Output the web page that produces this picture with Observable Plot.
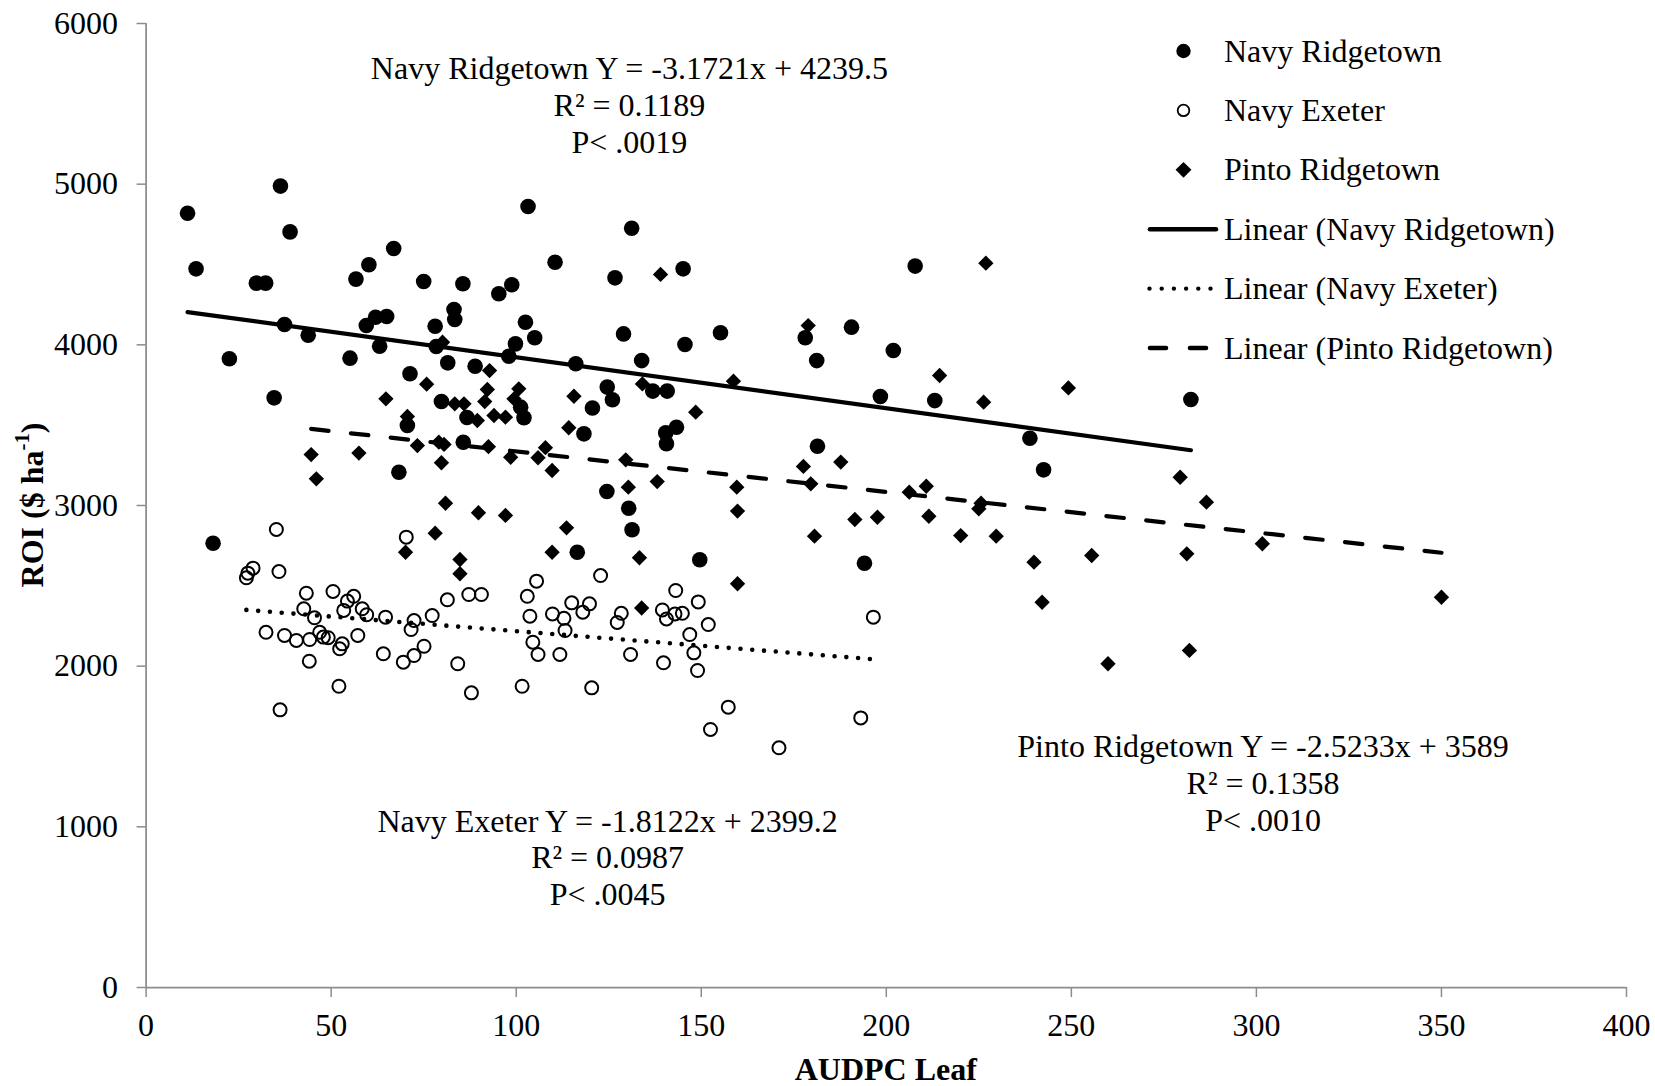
<!DOCTYPE html>
<html><head><meta charset="utf-8">
<script src="https://cdn.jsdelivr.net/npm/d3@7"></script>
<script src="https://cdn.jsdelivr.net/npm/@observablehq/plot@0.6"></script>
<style>
html,body{margin:0;padding:0;background:#fff;}
#chart{position:relative;width:1655px;height:1086px;}
</style></head><body><div id="chart"></div>
<script>
// ---- data (AUDPC Leaf, ROI $/ha) ----
const navyRidgetown = [
[11.2,4819],[36.3,4988],[13.5,4473],[38.9,4703],[66.9,4600],[60.2,4498],[56.7,4409],[29.8,4384],[32.3,4384],[75.0,4394],
[85.6,4380],[98.8,4374],[95.3,4318],[37.4,4127],[43.8,4060],[22.5,3913],[55.1,3917],[34.6,3670],[63.1,3991],[59.5,4120],
[62.0,4172],[65.0,4176],[83.2,4220],[83.4,4158],[78.1,4116],[102.5,4141],[78.4,3990],[99.8,4006],[98.0,3929],[81.5,3888],
[88.9,3867],[71.3,3820],[79.8,3647],[86.7,3548],[70.6,3498],[85.7,3394],[101.2,3612],[102.1,3546],[68.3,3207],[18.1,2765],
[103.2,4861],[131.2,4726],[110.5,4514],[126.7,4417],[145.1,4473],[105.0,4044],[129.0,4068],[145.6,4002],[155.2,4075],[116.1,3882],
[133.9,3902],[124.6,3737],[126.0,3658],[136.9,3712],[140.8,3712],[120.6,3607],[118.3,3446],[143.3,3487],[140.4,3452],[140.6,3384],
[178.1,4044],[190.6,4110],[181.2,3902],[198.4,3678],[181.4,3369],[124.5,3087],[130.4,2983],[131.3,2849],[116.5,2709],[149.6,2662],
[194.1,2641],[207.8,4490],[201.9,3965],[213.1,3653],[282.3,3660],[238.8,3419],[242.5,3222]
];
const navyExeter = [
[35.2,2851],[70.3,2803],[28.9,2610],[27.5,2579],[27.1,2550],[35.9,2589],[43.3,2454],[50.5,2465],[42.6,2357],[45.5,2301],
[54.4,2405],[56.1,2435],[53.4,2347],[58.4,2357],[59.6,2320],[64.7,2305],[72.4,2284],[71.6,2228],[77.3,2315],[81.4,2413],
[87.2,2446],[90.6,2446],[32.4,2211],[37.4,2191],[40.6,2160],[44.2,2166],[46.9,2211],[47.9,2181],[49.2,2177],[53.0,2139],
[52.3,2108],[57.2,2191],[75.1,2124],[72.4,2066],[69.5,2025],[64.1,2077],[44.1,2031],[84.2,2015],[52.1,1875],[87.9,1834],
[36.2,1728],[105.5,2529],[103.0,2435],[103.7,2311],[109.8,2325],[112.9,2298],[115.0,2394],[119.8,2388],[118.0,2336],[122.8,2564],
[113.2,2222],[104.5,2149],[105.9,2073],[111.8,2073],[128.4,2329],[127.3,2272],[130.9,2073],[143.1,2471],[139.5,2350],[140.6,2294],
[142.9,2325],[144.9,2329],[149.2,2400],[151.9,2259],[146.9,2197],[148.0,2083],[139.8,2021],[149.0,1973],[196.5,2305],[101.6,1875],
[120.4,1865],[157.3,1745],[152.5,1606],[171.0,1492],[193.1,1678]
];
const pintoRidgetown = [
[80.1,4016],[92.8,3840],[75.8,3755],[64.8,3664],[92.2,3722],[91.5,3647],[100.7,3726],[99.4,3664],[83.4,3633],[85.9,3633],
[89.5,3529],[94.0,3560],[97.1,3550],[70.6,3554],[73.3,3373],[79.1,3394],[80.5,3380],[92.5,3366],[44.6,3317],[46.0,3166],
[57.5,3326],[79.8,3266],[98.5,3300],[80.9,3014],[89.8,2955],[97.1,2938],[78.1,2828],[70.1,2709],[84.8,2664],[84.8,2575],
[139.0,4438],[115.6,3680],[114.2,3484],[134.1,3757],[148.5,3581],[158.7,3774],[178.9,4120],[107.9,3360],[105.9,3297],[109.7,3218],
[129.6,3284],[130.3,3114],[138.1,3149],[159.6,3114],[159.8,2965],[177.6,3243],[179.6,3135],[187.7,3270],[180.6,2809],[191.5,2913],
[197.6,2927],[113.6,2861],[109.7,2709],[133.3,2675],[159.8,2513],[133.9,2362],[226.9,4508],[214.4,3809],[249.2,3732],[226.3,3643],
[279.4,3176],[286.5,3021],[206.2,3083],[210.8,3120],[225.6,3014],[225.0,2979],[211.5,2933],[220.1,2813],[229.7,2809],[239.9,2647],
[255.5,2689],[281.2,2699],[301.6,2762],[242.1,2398],[350.0,2429],[259.9,2015],[281.9,2098]
];
const seriesNames = ["Navy Ridgetown", "Navy Exeter", "Pinto Ridgetown"];
const trendSlopes = [-3.1721, -1.8122, -2.5233];
const trendIntercepts = [4239.5, 2399.2, 3589];
const trendR2 = ["0.1189", "0.0987", "0.1358"];
const trendP = [".0019", ".0045", ".0010"];
const xTicks = [0, 50, 100, 150, 200, 250, 300, 350, 400];
const yTicks = [0, 1000, 2000, 3000, 4000, 5000, 6000];
const xLabel = "AUDPC Leaf";
const yLabelMain = "ROI ($ ha";
const yLabelSup = "-1";

// ---- layout ----
const W = 1655, H = 1086, mL = 145.6, mR = 29, mT = 23, mB = 99;
const FONT = "'Liberation Serif', 'Times New Roman', serif";
const FS = 32;
const AXIS = "#8c8c8c";
const annotAnchor = [[130.6, 5499], [124.7, 815], [301.8, 1276]]; // data-unit anchors of equation labels
const legendLayout = {symX: 1183.5, lineX0: 1150, lineX1: 1216, textX: 1224, y0: 51, step: 59.4};

const toRows = arr => arr.map(([x, y]) => ({x, y}));
const trendRows = (arr, i) => {
  const [x0, x1] = d3.extent(arr, d => d[0]);
  return [x0, x1].map(x => ({x, y: trendIntercepts[i] + trendSlopes[i] * x}));
};
const annotText = seriesNames.map((n, i) =>
  `${n} Y = ${trendSlopes[i]}x + ${trendIntercepts[i]}\nR\u00B2 = ${trendR2[i]}\nP< ${trendP[i]}`);

const lineStyles = [
  {strokeWidth: 4.2, strokeLinecap: "round"},
  {strokeWidth: 4.6, strokeDasharray: "0 11.8", strokeLinecap: "round"},
  {strokeWidth: 4.2, strokeDasharray: "17.5 22.5", strokeLinecap: "round"}
];

const plot = Plot.plot({
  width: W, height: H,
  marginLeft: mL, marginRight: mR, marginTop: mT, marginBottom: mB,
  x: {domain: [0, 400]},
  y: {domain: [0, 6000]},
  style: {fontFamily: FONT, fontSize: FS + "px", color: "#000", background: "#fff", overflow: "visible"},
  marks: [
    Plot.axisX({ticks: xTicks, tickSize: 10, tickPadding: 16, stroke: AXIS, strokeWidth: 1.5, fill: "#000",
      fontSize: FS, fontFamily: FONT, tickFormat: d => String(d), label: null}),
    Plot.axisY({ticks: yTicks, tickSize: 9, tickPadding: 19, stroke: AXIS, strokeWidth: 1.5, fill: "#000",
      fontSize: FS, fontFamily: FONT, tickFormat: d => String(d), label: null}),
    Plot.ruleX([0], {stroke: AXIS, strokeWidth: 1.75}),
    Plot.ruleY([0], {stroke: AXIS, strokeWidth: 1.75}),
    Plot.dot(toRows(navyRidgetown), {x: "x", y: "y", r: 7.8, fill: "#000", stroke: "none"}),
    Plot.dot(toRows(navyExeter), {x: "x", y: "y", r: 6.5, fill: "none", stroke: "#000", strokeWidth: 2}),
    Plot.dot(toRows(pintoRidgetown), {x: "x", y: "y", symbol: "diamond2", r: 6.9, fill: "#000", stroke: "none"}),
    Plot.line(trendRows(navyRidgetown, 0), {x: "x", y: "y", stroke: "#000", ...lineStyles[0]}),
    Plot.line(trendRows(navyExeter, 1), {x: "x", y: "y", stroke: "#000", ...lineStyles[1]}),
    Plot.line(trendRows(pintoRidgetown, 2), {x: "x", y: "y", stroke: "#000", ...lineStyles[2]}),
    Plot.text(annotText, {x: (d, i) => annotAnchor[i][0], y: (d, i) => annotAnchor[i][1], text: d => d,
      lineAnchor: "middle", lineHeight: 1.15, fontSize: FS, fontFamily: FONT, fill: "#000", textAnchor: "middle"})
  ]
});
document.getElementById("chart").appendChild(plot);

const svg = d3.select(plot);
// y axis title with superscript
const cy = (mT + H - mB) / 2;
const yl = svg.append("text")
  .attr("transform", `translate(32,${cy}) rotate(-90)`)
  .attr("text-anchor", "middle").attr("dy", "0.33em")
  .attr("font-family", FONT).attr("font-size", FS).attr("font-weight", "bold").attr("fill", "#000");
yl.append("tspan").text(yLabelMain);
yl.append("tspan").attr("font-size", FS * 0.65).attr("dy", -FS * 0.42).text(yLabelSup);
yl.append("tspan").attr("dy", FS * 0.42).text(")");
// x axis title
svg.append("text")
  .attr("x", (mL + W - mR) / 2).attr("y", 1069).attr("dy", "0.33em")
  .attr("text-anchor", "middle")
  .attr("font-family", FONT).attr("font-size", FS).attr("font-weight", "bold").attr("fill", "#000")
  .text(xLabel);

// legend
const lg = svg.append("g").attr("font-family", FONT).attr("font-size", FS).attr("fill", "#000")
  .attr("text-anchor", "start");
const legendItems = [
  ...seriesNames.map((n, i) => ({label: n, kind: "sym", i})),
  ...seriesNames.map((n, i) => ({label: `Linear (${n})`, kind: "line", i}))
];
legendItems.forEach((it, k) => {
  const y = legendLayout.y0 + k * legendLayout.step;
  if (it.kind === "sym") {
    if (it.i === 0) lg.append("circle").attr("cx", legendLayout.symX).attr("cy", y).attr("r", 7.2).attr("fill", "#000");
    if (it.i === 1) lg.append("circle").attr("cx", legendLayout.symX).attr("cy", y).attr("r", 5.8).attr("fill", "none").attr("stroke", "#000").attr("stroke-width", 1.8);
    if (it.i === 2) lg.append("path").attr("transform", `translate(${legendLayout.symX},${y})`)
      .attr("d", d3.symbol(d3.symbolDiamond2, 160)()).attr("fill", "#000");
  } else {
    const ln = lg.append("line").attr("y1", y).attr("y2", y)
      .attr("stroke", "#000").attr("stroke-linecap", "round");
    if (it.i === 0) ln.attr("x1", legendLayout.lineX0).attr("x2", legendLayout.lineX1).attr("stroke-width", 4.6);
    if (it.i === 1) ln.attr("x1", legendLayout.lineX0 - 0.5).attr("x2", legendLayout.lineX0 + 62).attr("stroke-width", 4.4)
      .attr("stroke-dasharray", "0 12.2");
    if (it.i === 2) ln.attr("x1", legendLayout.lineX0).attr("x2", legendLayout.lineX0 + 58).attr("stroke-width", 4.6)
      .attr("stroke-dasharray", "16 24");
  }
  lg.append("text").attr("x", legendLayout.textX).attr("y", y).attr("dy", "0.33em")
    .attr("text-anchor", "start").text(it.label);
});
</script></body></html>
